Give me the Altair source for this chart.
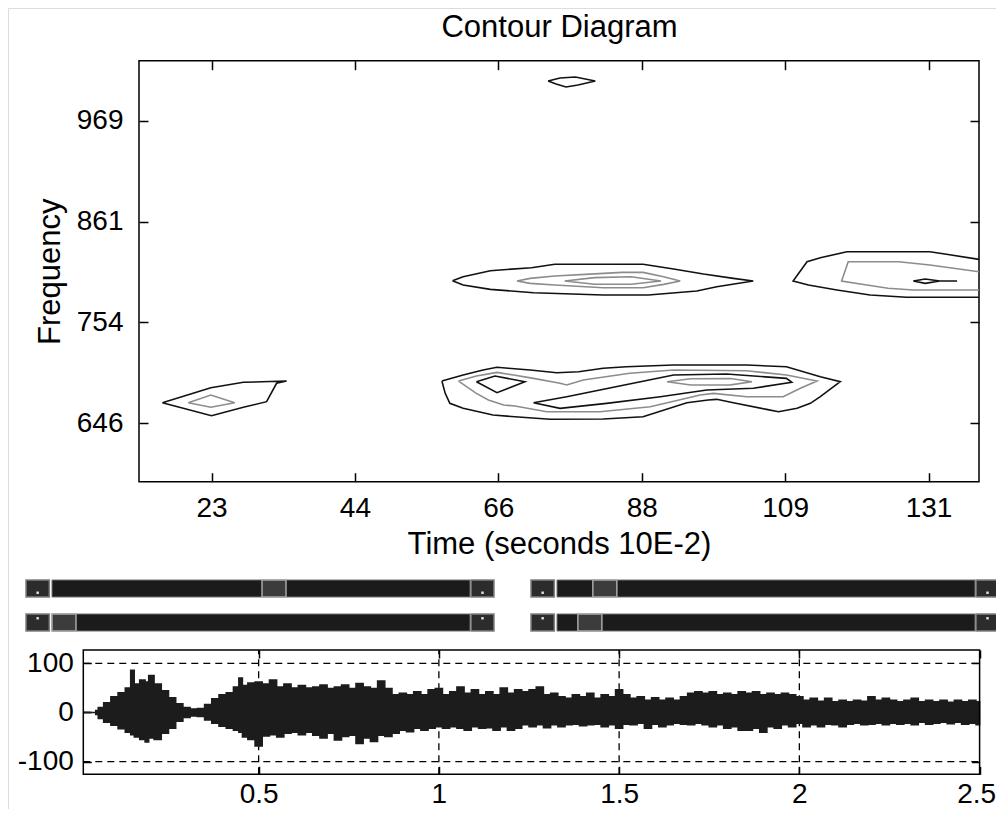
import altair as alt
import pandas as pd

FONT = "Liberation Sans"
W, H = 988, 801

# ---------------- contour diagram (time in 10E-2 s, frequency) ----------------
time_ticks = [22.8, 44.4, 66.0, 87.6, 109.2, 130.8]
freq_ticks = [646.0, 753.67, 861.33, 969.0]
time_range = [11.88, 138.4]
freq_range = [583.7, 1033.0]

# contour A (top, small)
cA_t = [73.5, 75.3, 77.6, 80.6, 78.0, 76.2, 74.7, 73.5]
cA_f = [1011.3, 1014.5, 1015.6, 1011.3, 1007.0, 1004.9, 1008.1, 1011.3]
# contour B (bottom left)
cB_t = [15.4, 22.7, 27.6, 34.1, 32.6, 31.1, 27.6, 22.8, 15.4]
cB_f = [668.0, 684.0, 689.8, 691.1, 688.7, 669.1, 663.1, 654.1, 668.0]
cB2_t = [19.3, 22.7, 26.3, 22.7, 19.3]
cB2_f = [668.0, 676.2, 668.0, 663.1, 668.0]
# contour C (middle, ~800)
cC_t = [59.1, 60.7, 64.8, 71.0, 74.5, 87.8, 92.4, 96.9, 101.4, 104.4, 98.9, 95.9,
        88.6, 81.8, 71.3, 64.8, 60.7, 59.1]
cC_f = [798.2, 802.5, 808.9, 812.1, 815.7, 815.7, 810.7, 805.3, 800.7, 797.9, 791.8,
        787.2, 782.9, 782.9, 785.4, 789.0, 793.6, 798.2]
cC2_t = [68.8, 70.8, 74.5, 79.1, 84.6, 87.8, 90.9, 93.4, 90.9, 87.8, 81.8, 74.5, 70.8, 68.8]
cC2_f = [797.9, 800.7, 803.2, 805.0, 807.1, 807.1, 802.5, 797.9, 794.3, 790.7, 790.7,
         793.6, 795.4, 797.9]
cC3_t = [76.0, 80.5, 86.0, 90.5, 86.0, 80.5, 76.0]
cC3_f = [797.9, 801.5, 802.5, 797.9, 794.5, 794.5, 797.9]
# contour D (middle, ~690)
cD_t = [57.5, 60.7, 63.7, 65.8, 67.5, 70.8, 74.8, 78.1, 81.8, 85.3, 92.4, 103.4, 109.4,
        114.5, 117.5, 114.5, 113.0, 111.0, 108.2, 106.4, 101.4, 98.9, 97.6, 94.4, 87.8,
        81.8, 73.8, 68.5, 65.2, 60.7, 58.7, 58.0, 57.5]
cD_f = [691.1, 697.5, 702.9, 705.8, 704.7, 702.9, 700.0, 701.1, 704.7, 706.4, 708.2,
        708.2, 706.4, 695.7, 690.4, 674.4, 667.3, 662.0, 658.4, 660.9, 668.0, 671.6,
        670.9, 668.0, 653.0, 650.6, 650.3, 653.0, 654.9, 662.0, 667.3, 678.0, 691.1]
cD2_t = [60.0, 62.7, 65.8, 68.3, 71.3, 75.3, 76.3, 78.8, 85.8, 92.4, 103.4, 109.4, 114.0,
         111.5, 108.9, 103.4, 98.4, 96.4, 88.9, 81.3, 73.3, 68.5, 66.8, 64.5, 62.7, 60.0]
cD2_f = [691.1, 696.5, 700.4, 697.5, 694.0, 688.7, 686.9, 692.2, 699.4, 702.9, 702.1,
         697.5, 691.1, 683.4, 674.4, 674.4, 678.0, 676.2, 663.7, 658.4, 658.4, 664.5,
         665.5, 670.9, 678.0, 691.1]
cD3_t = [62.7, 65.5, 70.0, 65.8, 62.7]
cD3_f = [690.4, 696.5, 690.4, 678.7, 690.4]
cD4_t = [71.3, 76.3, 86.3, 92.4, 100.4, 109.4, 110.2, 104.4, 97.4, 90.4, 82.3, 75.3, 71.3]
cD4_f = [668.0, 674.4, 688.7, 697.5, 698.6, 694.0, 689.8, 683.4, 681.5, 674.4, 667.3,
         662.0, 668.0]
cD5_t = [91.4, 95.0, 101.0, 104.2, 101.0, 95.0, 91.4]
cD5_f = [690.4, 693.5, 693.8, 690.4, 687.0, 686.9, 690.4]
# contour E (right, ~800, open at the right edge)
cE_t = [138.4, 133.5, 131.0, 118.5, 114.5, 112.5, 110.4, 112.7, 117.0, 122.0, 127.5, 138.4]
cE_f = [821.0, 826.4, 829.1, 829.1, 822.7, 818.5, 797.9, 793.6, 788.3, 782.9, 780.5, 780.5]
cE2_t = [138.4, 131.0, 126.3, 118.7, 117.7, 121.5, 124.7, 128.5, 138.4]
cE2_f = [807.8, 814.9, 818.5, 818.5, 797.9, 793.6, 790.1, 788.3, 788.3]
cE3_t = [128.5, 130.3, 132.5, 135.1, 132.5, 130.3, 128.5]
cE3_f = [797.9, 800.0, 797.9, 797.9, 797.9, 795.4, 797.9]

contours = [
    ("A", "outer", cA_t, cA_f), ("B", "outer", cB_t, cB_f), ("B2", "mid", cB2_t, cB2_f),
    ("C", "outer", cC_t, cC_f), ("C2", "mid", cC2_t, cC2_f), ("C3", "mid", cC3_t, cC3_f),
    ("D", "outer", cD_t, cD_f), ("D2", "mid", cD2_t, cD2_f), ("D3", "inner", cD3_t, cD3_f),
    ("D4", "inner", cD4_t, cD4_f), ("D5", "mid", cD5_t, cD5_f),
    ("E", "outer", cE_t, cE_f), ("E2", "mid", cE2_t, cE2_f), ("E3", "inner", cE3_t, cE3_f),
]

# ---------------- sliders ----------------
slider_rows = ["top", "bottom"]
slider_left_values = [0.533, 0.0]
slider_right_values = [0.091, 0.053]

# ---------------- waveform ----------------
wave_t = [0.0136, 0.04, 0.046, 0.05, 0.06, 0.08, 0.10, 0.12, 0.14, 0.15, 0.16, 0.18, 0.19,
          0.20, 0.22, 0.24, 0.26, 0.28, 0.30, 0.32, 0.34, 0.36, 0.38, 0.40, 0.42, 0.44,
          0.45, 0.46, 0.48, 0.50, 0.52, 0.54, 0.56, 0.58, 0.60, 0.62, 0.64, 0.66, 0.68,
          0.70, 0.72, 0.74, 0.76, 0.78, 0.80, 0.82, 0.84, 0.86, 0.88, 0.90, 0.92, 0.94,
          0.96, 0.98, 1.00, 1.02, 1.04, 1.06, 1.08, 1.10, 1.12, 1.14, 1.16, 1.18, 1.20,
          1.22, 1.24, 1.26, 1.28, 1.30, 1.32, 1.34, 1.36, 1.38, 1.40, 1.42, 1.44, 1.46,
          1.48, 1.50, 1.52, 1.54, 1.56, 1.58, 1.60, 1.62, 1.64, 1.66, 1.68, 1.70, 1.72,
          1.74, 1.76, 1.78, 1.80, 1.82, 1.84, 1.86, 1.88, 1.90, 1.92, 1.94, 1.96, 1.98,
          2.00, 2.02, 2.04, 2.06, 2.08, 2.10, 2.12, 2.14, 2.16, 2.18, 2.20, 2.22, 2.24,
          2.26, 2.28, 2.30, 2.32, 2.34, 2.36, 2.38, 2.40, 2.42, 2.44, 2.46, 2.48, 2.50]
wave_hi = [0, 0, 0, 4, 10, 20, 32, 40, 50, 86, 58, 66, 62,
           75, 58, 44, 30, 18, 10, 7, 8, 16, 28, 36, 40, 52,
           70, 55, 60, 62, 58, 66, 52, 58, 50, 55, 50, 52, 56,
           49, 52, 56, 49, 59, 52, 49, 64, 49, 36, 39, 36, 42,
           36, 46, 49, 36, 42, 52, 39, 46, 36, 42, 36, 50, 39,
           46, 42, 46, 52, 36, 39, 32, 29, 36, 32, 39, 29, 36,
           32, 46, 36, 29, 32, 25, 30, 25, 29, 25, 32, 39, 42,
           39, 42, 36, 39, 36, 42, 39, 42, 36, 39, 36, 39, 36,
           32, 25, 29, 23, 29, 22, 25, 22, 25, 23, 32, 25, 29,
           25, 22, 25, 29, 22, 25, 22, 25, 21, 25, 22, 25, 22]
wave_lo = [0, 0, 0, -4, -12, -20, -26, -33, -40, -45, -50, -55, -60,
           -52, -55, -42, -32, -18, -10, -7, -8, -15, -22, -28, -32, -36,
           -40, -50, -55, -68, -48, -45, -50, -42, -40, -45, -40, -46, -52,
           -42, -56, -49, -46, -63, -52, -59, -46, -49, -42, -36, -39, -32,
           -36, -32, -29, -32, -29, -32, -36, -29, -32, -31, -36, -29, -36,
           -32, -25, -29, -25, -31, -25, -29, -25, -24, -27, -25, -24, -29,
           -25, -32, -24, -25, -22, -32, -24, -29, -25, -22, -24, -25, -22,
           -25, -29, -25, -32, -29, -36, -36, -32, -40, -29, -32, -25, -29,
           -22, -29, -25, -29, -24, -25, -29, -24, -22, -25, -24, -22, -25,
           -22, -24, -22, -25, -20, -24, -22, -20, -23, -20, -24, -22, -25]
wave_x_ticks = [0.5, 1.0, 1.5, 2.0, 2.5]
wave_y_ticks = [-100, 0, 100]
wave_grid_x = [0.5, 1.0, 1.5, 2.0]
wave_t_range = [0.0136, 2.5]
wave_a_range = [-125.6, 127.0]

# ---------------- tables ----------------
rows = []
for cid, lvl, ts, fs in contours:
    for i, (t, f) in enumerate(zip(ts, fs)):
        rows.append({"cid": cid, "level": lvl, "i": i, "t": t, "f": f})
cdf = pd.DataFrame(rows)
cframe = pd.DataFrame({"x0": [time_range[0]], "x1": [time_range[1]],
                       "y0": [freq_range[0]], "y1": [freq_range[1]]})
wframe = pd.DataFrame({"x0": [wave_t_range[0]], "x1": [wave_t_range[1]],
                       "y0": [wave_a_range[0]], "y1": [wave_a_range[1]]})
wdf = pd.DataFrame({"t": wave_t, "hi": wave_hi, "lo": wave_lo})
wgx = pd.DataFrame({"v": wave_grid_x, "lo": wave_a_range[0], "hi": wave_a_range[1]})
wgy = pd.DataFrame({"v": wave_y_ticks, "lo": wave_t_range[0], "hi": wave_t_range[1]})

# slider geometry in trough units
TW = 0.0574
LB = (-0.0622, -0.0064)
RB = (1.0024, 1.0574)


def slider_table(values):
    out = []
    for r, v in zip(slider_rows, values):
        s = v * (1 - TW)
        out.append({"row": r, "kind": "trough", "x0": 0.0, "x1": 1.0})
        out.append({"row": r, "kind": "thumb", "x0": s, "x1": s + TW})
        out.append({"row": r, "kind": "button", "x0": LB[0], "x1": LB[1]})
        out.append({"row": r, "kind": "button", "x0": RB[0], "x1": RB[1]})
    df = pd.DataFrame(out)
    df["xc"] = (df["x0"] + df["x1"]) / 2
    return df


sl_left = slider_table(slider_left_values)
sl_right = slider_table(slider_right_values)

# ---------------- scales ----------------
cx = alt.Scale(domain=time_range, range=[131, 971], nice=False, zero=False)
cy = alt.Scale(domain=freq_range, range=[473.7, 52.7], nice=False, zero=False)
wx = alt.Scale(domain=wave_t_range, range=[75.3, 971.6], nice=False, zero=False)
wy = alt.Scale(domain=wave_a_range, range=[766.3, 642.0], nice=False, zero=False)
sy = alt.Scale(domain=slider_rows, range=[572, 623], paddingInner=0.5, paddingOuter=0)
slx_left = alt.Scale(domain=[0, 1], range=[44, 462], nice=False, zero=False)
slx_right = alt.Scale(domain=[0, 1], range=[549, 967], nice=False, zero=False)


def ax(**kw):
    base = dict(grid=False, domain=False, labelFont=FONT, titleFont=FONT,
                labelColor="black", titleColor="black", tickColor="black",
                labelFontSize=28, titleFontSize=31, titleFontWeight="normal",
                labelOverlap=False, labelFlush=False, labelBound=False)
    base.update(kw)
    return alt.Axis(**base)


def label_axis(orient, offset, values, expr, pad, title=None, tpad=0, **extra):
    kw = dict(orient=orient, offset=offset, values=values, labelExpr=expr,
              ticks=False, tickSize=0, labelPadding=pad)
    if title is not None:
        kw.update(title=title, titlePadding=tpad)
    else:
        kw.update(title=None)
    kw.update(extra)
    return ax(**kw)


def tick_axis(orient, offset, values, size):
    return ax(orient=orient, offset=offset, values=values, labels=False, ticks=True,
              tickSize=size, tickWidth=1.5, title=None)


def axis_layer(df, xs, ys, xaxis, yaxis):
    return alt.Chart(df).mark_point(opacity=0).encode(
        x=alt.X("x0:Q", scale=xs, axis=xaxis),
        y=alt.Y("y0:Q", scale=ys, axis=yaxis),
    )


layers = []

# contour panel
layers.append(alt.Chart(cframe).mark_rect(fill="transparent", stroke="black", strokeWidth=1.5).encode(
    x=alt.X("x0:Q", scale=cx, axis=None), x2="x1:Q",
    y=alt.Y("y0:Q", scale=cy, axis=None), y2="y1:Q"))
layers.append(alt.Chart(cdf).mark_line(strokeWidth=1.6, clip=True).encode(
    x=alt.X("t:Q", scale=cx, axis=None),
    y=alt.Y("f:Q", scale=cy, axis=None),
    color=alt.Color("level:N", scale=alt.Scale(domain=["outer", "mid", "inner"],
                                               range=["#111111", "#8c8c8c", "#111111"]),
                    legend=None),
    detail="cid:N",
    order=alt.Order("i:Q"),
))
layers.append(axis_layer(cframe, cx, cy,
                         label_axis("bottom", -327.3, time_ticks, "format(datum.value, '.0f')", 13,
                                    "Time (seconds 10E-2)", 7),
                         label_axis("left", -131, freq_ticks, "format(datum.value, '.0f')", 16,
                                    "Frequency", 10)))
layers.append(axis_layer(cframe, cx, cy,
                         tick_axis("top", -473.7, time_ticks, 9),
                         tick_axis("right", 131 - W, freq_ticks, 9)))
layers.append(axis_layer(cframe, cx, cy,
                         tick_axis("bottom", 52.7 - H, time_ticks, 9),
                         tick_axis("left", -971, freq_ticks, 9)))
layers.append(axis_layer(cframe, cx, cy,
                         ax(orient="top", offset=-52.7, labels=False, ticks=False,
                            title="Contour Diagram", titlePadding=17),
                         None))

# sliders
for df, sx in ((sl_left, slx_left), (sl_right, slx_right)):
    base = alt.Chart(df)
    enc = dict(x=alt.X("x0:Q", scale=sx, axis=None), x2="x1:Q",
               y=alt.Y("row:O", scale=sy, axis=None))
    layers.append(base.transform_filter("datum.kind == 'trough'").mark_rect(
        fill="#1b1b1b", stroke="#707070", strokeWidth=1).encode(**enc))
    layers.append(base.transform_filter("datum.kind == 'thumb'").mark_rect(
        fill="#3c3c3c", stroke="#a8a8a8", strokeWidth=1.5).encode(**enc))
    layers.append(base.transform_filter("datum.kind == 'button'").mark_rect(
        fill="#2c2c2c", stroke="#808080", strokeWidth=1.5).encode(**enc))
    layers.append(base.transform_filter("datum.kind == 'button'").mark_square(
        size=6, color="#e0e0e0", opacity=1).encode(
        x=alt.X("xc:Q", scale=sx, axis=None), y=alt.Y("row:O", scale=sy, axis=None)))

# waveform panel
dash = [7, 5]
layers.append(alt.Chart(wgx).mark_rule(color="black", strokeWidth=1.3, strokeDash=dash).encode(
    x=alt.X("v:Q", scale=wx, axis=None), y=alt.Y("lo:Q", scale=wy, axis=None), y2="hi:Q"))
layers.append(alt.Chart(wgy).mark_rule(color="black", strokeWidth=1.3, strokeDash=dash).encode(
    y=alt.Y("v:Q", scale=wy, axis=None), x=alt.X("lo:Q", scale=wx, axis=None), x2="hi:Q"))
layers.append(alt.Chart(wdf).mark_area(color="#1c1c1c", stroke="#1c1c1c", strokeWidth=1.5,
                                       interpolate="step").encode(
    x=alt.X("t:Q", scale=wx, axis=None),
    y=alt.Y("hi:Q", scale=wy, axis=None), y2="lo:Q"))
layers.append(alt.Chart(wframe).mark_rect(fill="transparent", stroke="black", strokeWidth=1.5).encode(
    x=alt.X("x0:Q", scale=wx, axis=None), x2="x1:Q",
    y=alt.Y("y0:Q", scale=wy, axis=None), y2="y1:Q"))
layers.append(axis_layer(wframe, wx, wy,
                         label_axis("bottom", 766.3 - H, wave_x_ticks, "'' + datum.value", 6,
                                    labelFlush=True, labelFlushOffset=16),
                         label_axis("left", -75.3, wave_y_ticks, "'' + datum.value", 10)))
layers.append(axis_layer(wframe, wx, wy,
                         tick_axis("top", -766.3, wave_x_ticks, 8),
                         tick_axis("right", 75.3 - W, wave_y_ticks, 8)))
layers.append(axis_layer(wframe, wx, wy,
                         tick_axis("bottom", 642.0 - H, wave_x_ticks, 8),
                         tick_axis("left", -971.6, wave_y_ticks, 8)))

chart = alt.layer(*layers).resolve_scale(
    x="independent", y="independent", color="independent"
).properties(
    width=W, height=H, padding=0, autosize=alt.AutoSizeParams(type="none")
).configure_view(stroke="transparent", strokeWidth=0).configure(background="white")

chart.save("out.html", embed_options={"renderer": "svg", "actions": False})
